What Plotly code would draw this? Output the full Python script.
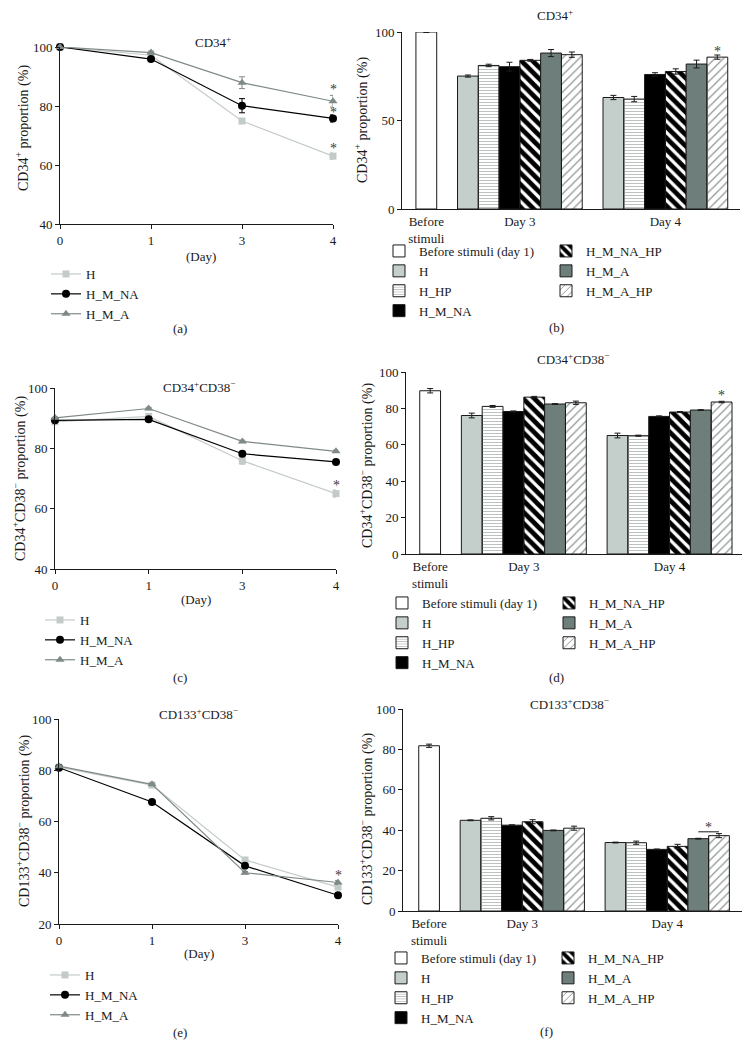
import plotly.graph_objects as go

W, H = 753, 1057
FONT = "Liberation Serif"
INK = "#1a1a1a"
FS = 13
OFF = 8  # page body margin compensation (screen px -> figure px)

# ---------------- line panels (a), (c), (e) ----------------
days = ["0", "1", "3", "4"]
line_names = ["H", "H_M_NA", "H_M_A"]

a_H = [100.0, 97.2, 74.9, 63.0]
a_H_err = [0.3, 0.4, 0.6, 1.1]
a_NA = [100.0, 95.9, 80.1, 75.8]
a_NA_err = [0.3, 0.5, 2.4, 1.2]
a_A = [100.0, 98.1, 87.9, 81.6]
a_A_err = [0.3, 0.5, 2.0, 2.0]
a_stars = [86.4, 78.6, 66.4]

c_H = [88.8, 90.6, 75.9, 65.0]
c_H_err = [0.5, 0.5, 1.2, 1.2]
c_NA = [89.3, 89.6, 78.2, 75.5]
c_NA_err = [0.3, 0.4, 0.5, 0.4]
c_A = [90.1, 93.2, 82.3, 79.0]
c_A_err = [0.3, 0.4, 0.4, 0.4]
c_stars = [68.4]

e_H = [81.2, 74.2, 45.0, 34.4]
e_H_err = [0.5, 0.5, 0.8, 0.8]
e_NA = [81.0, 67.6, 42.7, 31.2]
e_NA_err = [0.3, 0.4, 0.4, 0.4]
e_A = [81.6, 74.5, 40.0, 36.2]
e_A_err = [0.3, 0.5, 0.5, 0.8]
e_stars = [39.9]

# ---------------- bar panels (b), (d), (f) ----------------
group_labels = ["Before<br>stimuli", "Day 3", "Day 4"]
before_name = "Before stimuli (day 1)"
bar_names = ["H", "H_HP", "H_M_NA", "H_M_NA_HP", "H_M_A", "H_M_A_HP"]

b_before, b_before_err = 100.0, 0.3
b_day3 = [75.1, 81.1, 80.4, 84.0, 88.1, 87.2]
b_day3_err = [0.6, 0.7, 2.5, 0.5, 2.0, 1.5]
b_day4 = [63.0, 62.1, 76.0, 77.7, 81.9, 85.8]
b_day4_err = [1.2, 1.5, 1.0, 1.5, 2.2, 1.2]
b_star = 90.0

d_before, d_before_err = 89.7, 1.2
d_day3 = [76.1, 81.1, 78.3, 86.2, 82.4, 83.1]
d_day3_err = [1.3, 0.5, 0.3, 0.4, 0.2, 0.9]
d_day4 = [65.1, 65.0, 75.6, 78.0, 79.1, 83.5]
d_day4_err = [1.3, 0.3, 0.3, 0.3, 0.2, 0.4]
d_star = 88.4

f_before, f_before_err = 81.8, 0.8
f_day3 = [44.9, 45.9, 42.5, 44.2, 39.9, 41.0]
f_day3_err = [0.2, 0.8, 0.2, 1.0, 0.2, 1.0]
f_day4 = [33.9, 33.8, 30.5, 32.0, 35.8, 37.3]
f_day4_err = [0.2, 0.8, 0.2, 1.0, 0.2, 1.0]
f_star = 42.2
f_bracket = 39.2

# ---------------- styles ----------------
line_styles = {
    "H": dict(color="#c3cbc9", symbol="square", size=7),
    "H_M_NA": dict(color="#000000", symbol="circle", size=8),
    "H_M_A": dict(color="#7f8a88", symbol="triangle-up", size=8),
}
bar_styles = {
    "before": dict(color="white"),
    "H": dict(color="#c4cecb"),
    "H_HP": dict(color="#e8ecea", pattern=dict(shape="-", fgcolor="#b3bab8", size=3, solidity=0.3)),
    "H_M_NA": dict(color="#000000"),
    "H_M_NA_HP": dict(color="white", pattern=dict(shape="\\", fgcolor="#000000", size=8, solidity=0.6)),
    "H_M_A": dict(color="#6e7e7b"),
    "H_M_A_HP": dict(color="white", pattern=dict(shape="/", fgcolor="#8d9593", size=6, solidity=0.2)),
}


def fx(p):
    return (p - OFF) / W


def fy(p):
    return 1 - (p - OFF) / H


fig = go.Figure()
annotations = []
shapes = []


def txt(x, y, s, size=FS, angle=0):
    annotations.append(dict(x=fx(x), y=fy(y), xref="paper", yref="paper", text=s,
                            showarrow=False, textangle=angle, xanchor="center", yanchor="middle",
                            font=dict(family=FONT, size=size, color=INK)))


def star(xa, ya, x, y):
    annotations.append(dict(x=x, y=y, xref=xa, yref=ya, text="*", showarrow=False,
                            xanchor="center", yanchor="middle", yshift=-2,
                            font=dict(family=FONT, size=14, color="#3a3a3a")))


def axis_common():
    return dict(showline=True, linecolor=INK, linewidth=1, showgrid=False, zeroline=False,
                automargin=False, tickfont=dict(family=FONT, size=FS, color=INK))


def line_panel(ax, legend, series, stars, yrange, ytickvals, dom_x, dom_y):
    xa = "x" if ax == 1 else f"x{ax}"
    ya = "y" if ax == 1 else f"y{ax}"
    for name, (vals, errs) in zip(line_names, series):
        st = line_styles[name]
        fig.add_trace(go.Scatter(
            x=days, y=vals, name=name, mode="lines+markers", xaxis=xa, yaxis=ya,
            legend=legend, cliponaxis=False,
            line=dict(color=st["color"], width=1.2),
            marker=dict(color=st["color"], symbol=st["symbol"], size=st["size"]),
            error_y=dict(type="data", array=errs, color=st["color"], thickness=1, width=3),
        ))
    for s in stars:
        star(xa, ya, days.index("4"), s)
    key = "" if ax == 1 else str(ax)
    fig.layout["xaxis" + key] = dict(
        domain=[fx(dom_x[0]), fx(dom_x[1])], anchor=ya, type="category",
        range=[0, len(days) - 1], ticks="outside", ticklen=4, tickcolor=INK, **axis_common())
    fig.layout["yaxis" + key] = dict(
        domain=[fy(dom_y[1]), fy(dom_y[0])], anchor=xa, range=yrange,
        tickvals=ytickvals, ticks="outside", ticklen=4, tickcolor=INK, **axis_common())


def bar_panel(ax, legends, before, before_err, day3, day3_err, day4, day4_err,
              xrange, ytickvals, dom_x, dom_y):
    xa = f"x{ax}"
    ya = f"y{ax}"
    fig.add_trace(go.Bar(
        x=[0], y=[before], name=before_name, width=1, xaxis=xa, yaxis=ya, legend=legends[0],
        marker=dict(line=dict(color=INK, width=1), **bar_styles["before"]),
        error_y=dict(type="data", array=[before_err], color=INK, thickness=1, width=3),
    ))
    for i, name in enumerate(bar_names):
        xs = [2 + i, 9 + i]
        fig.add_trace(go.Bar(
            x=xs, y=[day3[i], day4[i]], name=name, width=1, xaxis=xa, yaxis=ya,
            legend=legends[0] if i < 3 else legends[1],
            marker=dict(line=dict(color=INK, width=1), **bar_styles[name]),
            error_y=dict(type="data", array=[day3_err[i], day4_err[i]], color=INK,
                         thickness=1, width=3),
        ))
    fig.layout[f"xaxis{ax}"] = dict(
        domain=[fx(dom_x[0]), fx(dom_x[1])], anchor=ya, range=xrange,
        tickvals=[0, 4.5, 11.5], ticktext=group_labels, ticks="", **axis_common())
    fig.layout[f"yaxis{ax}"] = dict(
        domain=[fy(dom_y[1]), fy(dom_y[0])], anchor=xa, range=[0, 100],
        tickvals=ytickvals, ticks="outside", ticklen=4, tickcolor=INK, **axis_common())


# (a)
line_panel(1, "legend", [(a_H, a_H_err), (a_NA, a_NA_err), (a_A, a_A_err)], a_stars,
           [40, 100], [40, 60, 80, 100], (60, 333), (47, 224))
# (b)
bar_panel(2, ["legend2", "legend3"], b_before, b_before_err, b_day3, b_day3_err,
          b_day4, b_day4_err, [-1.17, 15.09], [0, 50, 100], (402, 740), (32, 209))
star("x2", "y2", 14, b_star)
# (c)
line_panel(3, "legend4", [(c_H, c_H_err), (c_NA, c_NA_err), (c_A, c_A_err)], c_stars,
           [40, 100], [40, 60, 80, 100], (55, 336), (388, 569))
# (d)
bar_panel(4, ["legend5", "legend6"], d_before, d_before_err, d_day3, d_day3_err,
          d_day4, d_day4_err, [-1.16, 14.98], [0, 20, 40, 60, 80, 100], (406, 742), (372, 554))
star("x4", "y4", 14, d_star)
# (e)
line_panel(5, "legend7", [(e_H, e_H_err), (e_NA, e_NA_err), (e_A, e_A_err)], e_stars,
           [20, 100], [20, 40, 60, 80, 100], (59, 338), (719, 924))
# (f)
bar_panel(6, ["legend8", "legend9"], f_before, f_before_err, f_day3, f_day3_err,
          f_day4, f_day4_err, [-1.26, 15.11], [0, 20, 40, 60, 80, 100], (403, 742), (709, 911))
star("x6", "y6", 13.5, f_star)
shapes.append(dict(type="line", xref="x6", yref="y6", x0=13, x1=14, y0=f_bracket,
                   y1=f_bracket, line=dict(color=INK, width=1)))

# titles
txt(213, 42, "CD34<sup>+</sup>")
txt(555, 15, "CD34<sup>+</sup>")
txt(199, 387, "CD34<sup>+</sup>CD38<sup>−</sup>")
txt(573, 359, "CD34<sup>+</sup>CD38<sup>−</sup>")
txt(198, 714, "CD133<sup>+</sup>CD38<sup>−</sup>")
txt(569, 704, "CD133<sup>+</sup>CD38<sup>−</sup>")

# y labels
txt(23, 128, "CD34<sup>+</sup> proportion (%)", size=14, angle=-90)
txt(362, 120, "CD34<sup>+</sup> proportion (%)", size=14, angle=-90)
txt(19, 479, "CD34<sup>+</sup>CD38<sup>−</sup> proportion (%)", size=14, angle=-90)
txt(366, 466, "CD34<sup>+</sup>CD38<sup>−</sup> proportion (%)", size=14, angle=-90)
txt(23, 821, "CD133<sup>+</sup>CD38<sup>−</sup> proportion (%)", size=14, angle=-90)
txt(366, 819, "CD133<sup>+</sup>CD38<sup>−</sup> proportion (%)", size=14, angle=-90)

# x labels
txt(201, 256, "(Day)")
txt(196, 599, "(Day)")
txt(199, 953, "(Day)")

# panel letters
txt(180, 328, "(a)")
txt(556, 327, "(b)")
txt(180, 677, "(c)")
txt(556, 677, "(d)")
txt(180, 1032, "(e)")
txt(546, 1031, "(f)")


def legend_cfg(xp, first_row):
    return dict(x=fx(xp), y=fy(first_row - 14), xanchor="left", yanchor="top",
                bgcolor="rgba(0,0,0,0)", borderwidth=0, tracegroupgap=0, itemwidth=30,
                font=dict(family=FONT, size=FS, color=INK))


fig.update_layout(
    template="none",
    width=W, height=H, margin=dict(l=0, r=0, t=0, b=0, pad=0, autoexpand=False),
    paper_bgcolor="white", plot_bgcolor="white", barmode="overlay",
    showlegend=True,
    annotations=annotations, shapes=shapes,
    legend=legend_cfg(46, 273),
    legend2=legend_cfg(379, 250),
    legend3=legend_cfg(546, 250),
    legend4=legend_cfg(40, 619),
    legend5=legend_cfg(382, 602),
    legend6=legend_cfg(549, 602),
    legend7=legend_cfg(45, 974),
    legend8=legend_cfg(381, 957),
    legend9=legend_cfg(548, 957),
)

fig.write_html("out.html")
